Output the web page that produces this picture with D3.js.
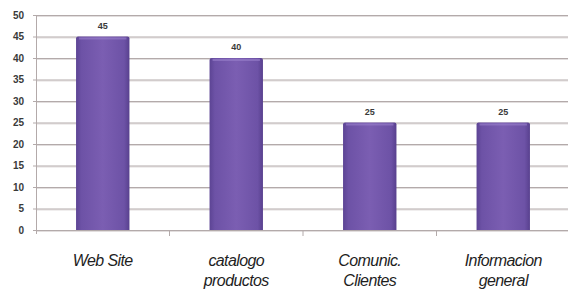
<!DOCTYPE html>
<html>
<head>
<meta charset="utf-8">
<script src="https://cdn.jsdelivr.net/npm/d3@7"></script>
<style>
  body { margin: 0; background: #fff; }
  svg { display: block; }
</style>
</head>
<body>
<div class="chart"></div>
<script>
// data
const categories = ['Web Site', 'catalogo productos', 'Comunic. Clientes', 'Informacion general']
const labelLines = [['Web Site'], ['catalogo', 'productos'], ['Comunic.', 'Clientes'], ['Informacion', 'general']]
const values = [45, 40, 25, 25]
const yTicks = [0, 5, 10, 15, 20, 25, 30, 35, 40, 45, 50]

const W = 568, H = 295
const plotLeft = 36, plotRight = 570, plotTop = 15, plotBottom = 230

const svg = d3.select('.chart')
  .append('svg')
  .attr('width', W)
  .attr('height', H)

const x = d3.scaleBand()
  .domain(categories)
  .range([plotLeft, plotRight])
  .paddingInner(0.6)
  .paddingOuter(0.3)

const y = d3.scaleLinear()
  .domain([0, 50])
  .range([plotBottom, plotTop])

// bar gradient
const defs = svg.append('defs')
const grad = defs.append('linearGradient')
  .attr('id', 'barGrad')
  .attr('x1', '0%').attr('x2', '100%')
grad.append('stop').attr('offset', '0%').attr('stop-color', '#5c4494')
grad.append('stop').attr('offset', '10%').attr('stop-color', '#6d52a6')
grad.append('stop').attr('offset', '50%').attr('stop-color', '#7b5eb2')
grad.append('stop').attr('offset', '90%').attr('stop-color', '#6d52a6')
grad.append('stop').attr('offset', '100%').attr('stop-color', '#58408e')

// gridlines (double line: dark + light shadow)
svg.append('g')
  .selectAll('line')
  .data(yTicks)
  .join('line')
  .attr('x1', plotLeft).attr('x2', W)
  .attr('y1', d => y(d) + 1.5).attr('y2', d => y(d) + 1.5)
  .attr('stroke', '#e2dede')
  .attr('stroke-width', 1)

svg.append('g')
  .selectAll('line')
  .data(yTicks)
  .join('line')
  .attr('x1', plotLeft - 3).attr('x2', W)
  .attr('y1', d => y(d) + 0.5).attr('y2', d => y(d) + 0.5)
  .attr('stroke', '#b3aaaa')
  .attr('stroke-width', 1)

// y axis line
svg.append('line')
  .attr('x1', plotLeft + 0.5).attr('x2', plotLeft + 0.5)
  .attr('y1', plotTop).attr('y2', plotBottom + 4)
  .attr('stroke', '#b3aaaa')

// y tick labels
svg.append('g')
  .selectAll('text')
  .data(yTicks)
  .join('text')
  .attr('x', 24)
  .attr('y', d => y(d) + 3.5)
  .attr('text-anchor', 'end')
  .attr('font-family', 'Arial, Liberation Sans, sans-serif')
  .attr('font-size', 10)
  .attr('font-weight', 'bold')
  .attr('fill', '#3a3a3a')
  .text(d => d)

// x category tick marks (between categories)
svg.append('g')
  .selectAll('line')
  .data(categories.slice(1))
  .join('line')
  .attr('x1', d => x(d) - x.step() * x.paddingInner() / 2)
  .attr('x2', d => x(d) - x.step() * x.paddingInner() / 2)
  .attr('y1', plotBottom).attr('y2', plotBottom + 6)
  .attr('stroke', '#b3aaaa')

// bars
svg.append('g')
  .selectAll('path')
  .data(values)
  .join('path')
  .attr('d', (d, i) => {
    const x0 = x(categories[i]), w = x.bandwidth()
    const y0 = y(d), r = 2
    return `M${x0},${plotBottom} L${x0},${y0 + r} Q${x0},${y0} ${x0 + r},${y0} ` +
      `L${x0 + w - r},${y0} Q${x0 + w},${y0} ${x0 + w},${y0 + r} L${x0 + w},${plotBottom} Z`
  })
  .attr('fill', 'url(#barGrad)')

// top highlight
svg.append('g')
  .selectAll('rect')
  .data(values)
  .join('rect')
  .attr('x', (d, i) => x(categories[i]) + 3)
  .attr('y', d => y(d) + 1)
  .attr('width', x.bandwidth() - 6)
  .attr('height', 2)
  .attr('fill', '#9a80cc')
  .attr('opacity', 0.6)

// value labels
svg.append('g')
  .selectAll('text')
  .data(values)
  .join('text')
  .attr('x', (d, i) => x(categories[i]) + x.bandwidth() / 2)
  .attr('y', d => y(d) - 8)
  .attr('text-anchor', 'middle')
  .attr('font-family', 'Arial, Liberation Sans, sans-serif')
  .attr('font-size', 9)
  .attr('font-weight', 'bold')
  .attr('fill', '#3a3a3a')
  .text(d => d)

// category labels
const xl = svg.append('g')
  .selectAll('text')
  .data(categories)
  .join('text')
  .attr('x', d => x(d) + x.bandwidth() / 2)
  .attr('y', 266)
  .attr('text-anchor', 'middle')
  .attr('font-family', 'Arial, Liberation Sans, sans-serif')
  .attr('font-size', 16)
  .attr('font-style', 'italic')
  .attr('letter-spacing', -0.6)
  .attr('fill', '#1e1e1e')

xl.selectAll('tspan')
  .data((d, i) => labelLines[i])
  .join('tspan')
  .attr('x', function() { return d3.select(this.parentNode).attr('x') })
  .attr('dy', (d, j) => j === 0 ? 0 : 20)
  .text(d => d)
</script>
</body>
</html>
